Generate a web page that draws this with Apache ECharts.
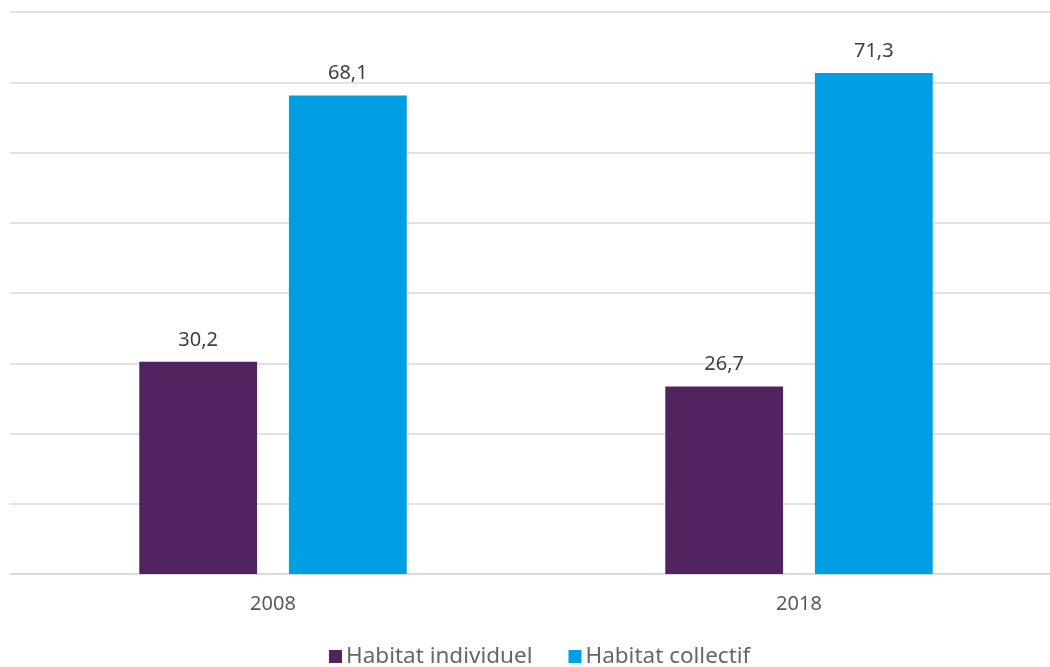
<!DOCTYPE html>
<html><head><meta charset="utf-8">
<script src="https://cdn.jsdelivr.net/npm/echarts@6/dist/echarts.min.js"></script>
<style>html,body{margin:0;padding:0;background:#fff;overflow:hidden;width:1050px;height:667px}#c{width:1062px;height:667px}</style>
</head><body><div id="c"></div>
<script>
const categories = ['2008', '2018'];
const individuel = [30.2, 26.7];
const collectif = [68.1, 71.3];
const seriesNames = ['Habitat individuel', 'Habitat collectif'];

const chart = echarts.init(document.getElementById('c'));
const fmt = p => String(p.value).replace('.', ',');
const lbl = {show: true, position: 'top', distance: 12, color: '#404040', fontSize: 20, fontFamily: 'Noto Sans', formatter: fmt};
chart.setOption({
  animation: false,
  grid: {left: 10, right: 0, top: 12, bottom: 93, containLabel: false},
  legend: {
    bottom: -6, left: 324, itemWidth: 13, itemHeight: 13, itemGap: 36,
    icon: 'rect',
    textStyle: {color: '#666', fontSize: 22.5, fontFamily: 'Noto Sans', padding: [0, 0, 0, -1]},
    data: seriesNames
  },
  xAxis: {
    type: 'category', data: categories,
    axisLine: {lineStyle: {color: '#d9d9d9', width: 1.5}},
    axisTick: {show: false},
    axisLabel: {color: '#595959', fontSize: 20, fontFamily: 'Noto Sans', margin: 20}
  },
  yAxis: {
    type: 'value', min: 0, max: 80, interval: 10,
    axisLabel: {show: false}, axisLine: {show: false}, axisTick: {show: false},
    splitLine: {lineStyle: {color: '#d9d9d9', width: 1.5}}
  },
  series: [
    {name: seriesNames[0], type: 'bar', data: individuel, barWidth: '22.4%', barGap: '27%', itemStyle: {color: '#52245f'}, label: lbl},
    {name: seriesNames[1], type: 'bar', data: collectif, barWidth: '22.4%', itemStyle: {color: '#009fe3'}, label: lbl}
  ]
});
</script></body></html>
